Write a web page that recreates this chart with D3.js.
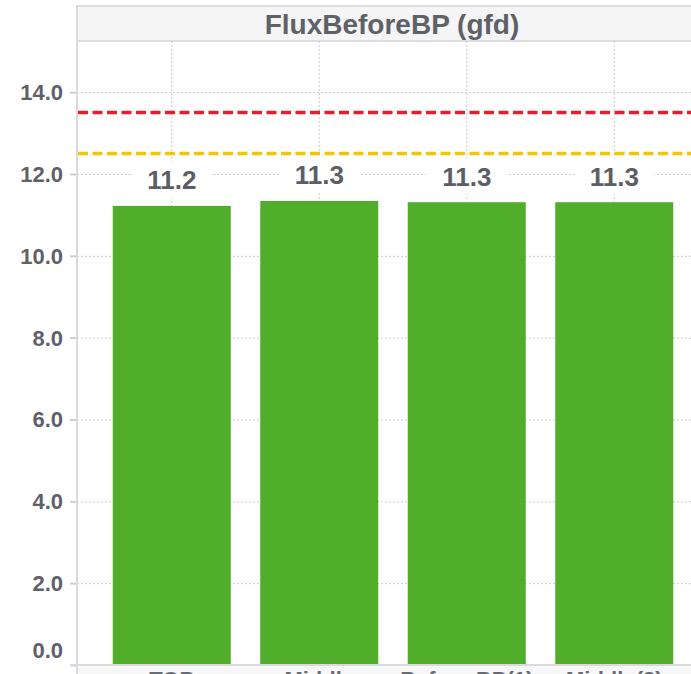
<!DOCTYPE html>
<html><head><meta charset="utf-8">
<script src="https://cdn.jsdelivr.net/npm/d3@7"></script>
<style>
html,body{margin:0;padding:0;background:#fff;overflow:hidden}
text{font-family:"Liberation Sans",Arial,sans-serif;font-weight:bold}
</style></head>
<body>
<svg id="c" width="691" height="674"></svg>
<script>
const title = "FluxBeforeBP (gfd)";
const categories = ["TOP", "Middle", "Before BP(1)", "Middle(2)"];
const values = [11.22, 11.34, 11.31, 11.31];
const valueLabels = ["11.2", "11.3", "11.3", "11.3"];
const yTicks = [0, 2, 4, 6, 8, 10, 12, 14];
const refLines = [{value: 13.5, color: "#e0202a"}, {value: 12.5, color: "#f2c40c"}];

(function () {
const svg = d3.select("#c");
const W = 691, H = 674;
const pLeft = 77, pTop = 41, pBottom = 665, pRight = 730;

const x = d3.scaleBand().domain(categories).range([98, 688]).paddingInner(0.2).paddingOuter(0.1);
const y = d3.scaleLinear().domain([0, 15.25]).range([pBottom, pTop]);

// x-label area background
svg.append("rect").attr("x", pLeft).attr("y", pBottom).attr("width", pRight - pLeft).attr("height", H - pBottom).attr("fill", "#f7f7f8");

// header
svg.append("rect").attr("x", pLeft).attr("y", 6).attr("width", pRight - pLeft).attr("height", pTop - 6)
  .attr("fill", "#f5f5f6").attr("stroke", "#dcdde1").attr("stroke-width", 2);
svg.append("text").attr("x", 392).attr("y", 24).attr("dy", "0.35em").attr("text-anchor", "middle")
  .attr("font-size", 28).attr("fill", "#5f6168").text(title);

// horizontal grid
const yAxis = d3.axisLeft(y).tickValues(yTicks).tickSize(-(pRight - pLeft)).tickFormat(d => d.toFixed(1)).tickPadding(14);
const gy = svg.append("g").attr("transform", `translate(${pLeft},0)`).call(yAxis);
gy.select(".domain").remove();
gy.selectAll(".tick line").attr("stroke", "#c9cace").attr("stroke-width", 1).attr("stroke-dasharray", "2,2");
gy.selectAll(".tick text").attr("font-size", 22).attr("fill", "#5f6168").attr("font-weight", "bold")
  .attr("font-family", '"Liberation Sans",Arial,sans-serif')
  .attr("dy", d => d === 0 ? "-0.36em" : "0.34em");
gy.selectAll(".tick").append("line").attr("x1", -7).attr("x2", 0).attr("stroke", "#c9cdd6").attr("stroke-width", 2);

// vertical grid
svg.append("g").selectAll("line").data(categories).join("line")
  .attr("x1", d => x(d) + x.bandwidth() / 2).attr("x2", d => x(d) + x.bandwidth() / 2)
  .attr("y1", pTop).attr("y2", pBottom)
  .attr("stroke", "#c9cace").attr("stroke-width", 1).attr("stroke-dasharray", "2,2");

// ref lines
svg.append("g").selectAll("line").data(refLines).join("line")
  .attr("x1", pLeft + 1).attr("x2", pRight).attr("y1", d => y(d.value)).attr("y2", d => y(d.value))
  .attr("stroke", d => d.color).attr("stroke-width", 3.5).attr("stroke-dasharray", "10,4.5");

// bars
svg.append("g").selectAll("rect").data(values).join("rect")
  .attr("x", (d, i) => x(categories[i])).attr("width", x.bandwidth())
  .attr("y", d => y(d)).attr("height", d => y(0) - y(d))
  .attr("fill", "#50ae2b");

// value labels
const lg = svg.append("g").selectAll("g").data(values).join("g")
  .attr("transform", (d, i) => `translate(${x(categories[i]) + x.bandwidth() / 2},${y(d) - 26})`);
lg.append("rect").attr("x", -40).attr("y", -18).attr("width", 80).attr("height", 36).attr("fill", "#fff");
lg.append("text").attr("text-anchor", "middle").attr("dy", "0.36em").attr("font-size", 26)
  .attr("fill", "#5c5e65").text((d, i) => valueLabels[i]);

// axes lines
svg.append("line").attr("x1", 70).attr("x2", pRight).attr("y1", pBottom).attr("y2", pBottom).attr("stroke", "#d8dae0").attr("stroke-width", 2);
svg.append("line").attr("x1", pLeft).attr("x2", pLeft).attr("y1", 6).attr("y2", H).attr("stroke", "#d8dae0").attr("stroke-width", 2);

// x labels (clipped by the bottom edge, as in the reference)
svg.append("g").selectAll("text").data(categories).join("text")
  .attr("x", d => x(d) + x.bandwidth() / 2).attr("y", 687).attr("text-anchor", "middle")
  .attr("font-size", 22).attr("fill", "#6a6c73").text(d => d);
})();
</script>
</body></html>
